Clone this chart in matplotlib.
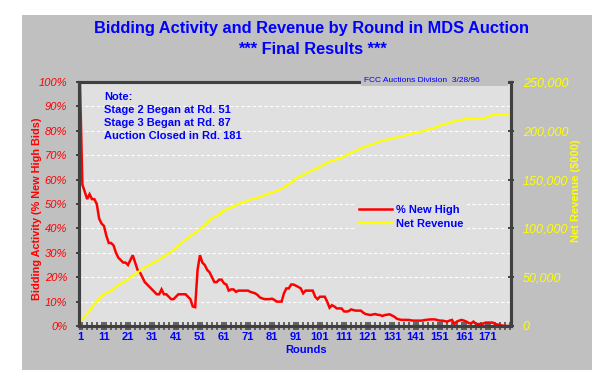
import matplotlib
matplotlib.use('Agg')
import matplotlib.pyplot as plt
import numpy as np
from matplotlib.patches import Rectangle
from matplotlib.lines import Line2D
from matplotlib.ticker import MultipleLocator, FuncFormatter

# % of new high bids per round (rounds 1..181)
pct_new_high = [
  100, 58, 55, 52, 54, 52, 52, 50, 44, 42,
  41, 37, 34, 34, 33, 30, 28, 27, 26, 26,
  25, 27, 29, 26, 23, 22, 20, 18, 17, 16,
  15, 14, 13, 13, 15, 13, 13, 12, 11, 11,
  12, 13, 13, 13, 13, 12, 11, 8, 7.7, 23,
  29, 26, 25, 23, 22, 20, 18, 18, 19, 19,
  17.5, 17, 14.5, 15, 15, 14, 14.5, 14.5, 14.5, 14.5,
  14.5, 14, 13.7, 13.4, 12.7, 11.7, 11.3, 11, 11, 11,
  11.2, 10.7, 10, 10, 10, 13.4, 15.4, 15.4, 17, 17,
  16.5, 16, 15.4, 13.4, 14.5, 14.5, 14.5, 14.5, 12, 11,
  12, 12, 12, 10, 7.5, 8.5, 8, 7.2, 7.2, 7.2,
  6, 5.9, 6.1, 6.8, 6.5, 6.3, 6.3, 6.3, 5.5, 4.9,
  4.7, 4.5, 4.7, 4.9, 4.6, 4.5, 4.1, 4.5, 4.6, 4.8,
  4.3, 3.8, 3, 2.7, 2.5, 2.5, 2.5, 2.5, 2.3, 2.2,
  2.2, 2.2, 2.2, 2.3, 2.5, 2.6, 2.7, 2.7, 2.7, 2.4,
  2.2, 2.2, 2.0, 1.8, 2.2, 2.5, 0.8, 1.8, 2.2, 2.5,
  2.2, 1.8, 1.2, 1.1, 1.8, 0.8, 0.8, 0.8, 1.0, 1.4,
  1.4, 1.4, 1.4, 0.8, 0.6, 0.4, 0.2, 0, 0, 0,
  0]
rounds = np.arange(1, len(pct_new_high) + 1)

# cumulative net revenue ($000), read at selected rounds
rev_rounds = [1, 3, 5, 7, 9, 11, 14, 17, 20, 22, 25, 28, 31, 34, 36, 39, 42, 45, 48, 50,
              53, 56, 59, 61, 64, 67, 70, 72, 75, 78, 81, 84, 86, 88, 90, 91, 94, 97, 100, 102,
              105, 108, 111, 113, 116, 119, 122, 125, 127, 130, 133, 136, 138, 141, 144, 147, 150, 152, 155, 158,
              161, 163, 166, 169, 171, 173, 177, 181]
net_revenue = [4400, 9600, 15700, 22500, 28000, 32500, 36000, 42000, 46000, 50000,
               55000, 60000, 64000, 68000, 71500, 76000, 82000, 88500, 94000, 97000,
               103500, 110500, 114000, 118500, 121500, 125000, 127500, 129500, 131500, 134200,
               136600, 139500, 142000, 145500, 148500, 151300, 154700, 158800, 161500, 164900,
               168400, 170800, 173500, 176200, 179600, 183000, 185400, 188200, 189900, 191600,
               193300, 195000, 196400, 198100, 199800, 201800, 204200, 206300, 208300, 210400,
               211700, 212100, 212100, 212100, 214500, 216200, 216200, 216200]

xtick_rounds = list(range(1, 172, 10))
note_lines = ['Note:', 'Stage 2 Began at Rd. 51', 'Stage 3 Began at Rd. 87', 'Auction Closed in Rd. 181']

W, H = 604, 382
BLUE = '#0000FF'
RED = '#FF0000'
YEL = '#FFFF00'
DARK = '#404040'
OUTER = '#C0C0C0'
INNER = '#E0E0E0'
SANS = ['Liberation Sans', 'DejaVu Sans']

fig = plt.figure(figsize=(W/100, H/100), dpi=100, facecolor='white')

def fx(px): return px / W
def fy(py): return 1 - py / H

# gray frame behind the chart
fig.patches.append(Rectangle((fx(22), fy(370)), fx(592) - fx(22), fy(15) - fy(370),
                             transform=fig.transFigure, facecolor=OUTER, edgecolor='none', zorder=-5))

ax = fig.add_axes([fx(79), fy(326), fx(511) - fx(79), fy(82) - fy(326)])
ax.set_facecolor(INNER)
ax2 = ax.twinx()

ax.plot(rounds, pct_new_high, color=RED, lw=1.8, solid_joinstyle='miter')
ax2.plot(rev_rounds, net_revenue, color=YEL, lw=1.6)

ax.set_xlim(0.6, 180.6)
ax.set_ylim(0, 100)
ax2.set_ylim(0, 250000)

ax.yaxis.set_major_locator(MultipleLocator(10))
ax.yaxis.set_major_formatter(FuncFormatter(lambda v, p: '%d%%' % v))
ax.grid(axis='y', color='white', lw=0.8, linestyle=(0, (3, 2.2)))
ax.set_axisbelow(True)

ax.set_xticks(xtick_rounds)
ax.xaxis.set_minor_locator(MultipleLocator(2))
ax.tick_params(axis='x', which='both', direction='inout', length=6, width=1.1, color=DARK,
               labelsize=8, labelcolor=BLUE, pad=1.5)
ax.tick_params(axis='y', direction='out', length=2.5, width=1.4, color=DARK,
               labelsize=8, labelcolor=RED, pad=6)
for lab in ax.get_xticklabels():
  lab.set_fontweight('bold')
  lab.set_family(SANS)
for lab in ax.get_yticklabels():
  lab.set_fontstyle('italic')
  lab.set_family(SANS)

ax2.yaxis.set_major_locator(MultipleLocator(50000))
ax2.yaxis.set_major_formatter(FuncFormatter(lambda v, p: '{:,.0f}'.format(v)))
ax2.tick_params(axis='y', direction='inout', length=5, width=1.4, color=DARK,
                labelsize=9, labelcolor=YEL, pad=6)
for lab in ax2.get_yticklabels():
  lab.set_fontstyle('italic')
  lab.set_family(SANS)

for a in (ax, ax2):
  for s in a.spines.values():
    s.set_color(DARK)
    s.set_linewidth(2.2)

# titles and labels
fig.text(fx(312), fy(29), 'Bidding Activity and Revenue by Round in MDS Auction', color=BLUE,
         fontsize=11.8, fontweight='bold', family=SANS, ha='center', va='center')
fig.text(fx(312), fy(50), '*** Final Results ***', color=BLUE,
         fontsize=11.8, fontweight='bold', family=SANS, ha='center', va='center')
fig.text(fx(306), fy(350), 'Rounds', color=BLUE, fontsize=8, fontweight='bold',
         family=SANS, ha='center', va='center')
fig.text(fx(37), fy(209), 'Bidding Activity (% New High Bids)', color=RED, fontsize=7.8,
         fontweight='bold', family=SANS, rotation=90, ha='center', va='center')
fig.text(fx(576), fy(191), 'Net Revenue ($000)', color=YEL, fontsize=8,
         fontweight='bold', family=SANS, rotation=90, ha='center', va='center')

# note
fig.text(fx(104), fy(92), '\n'.join(note_lines), color=BLUE, fontsize=8, fontweight='bold',
         family=SANS, ha='left', va='top', linespacing=1.38)

# stamp box over the top spine
fig.patches.append(Rectangle((fx(361), fy(86)), fx(508) - fx(361), fy(75) - fy(86),
                             transform=fig.transFigure, facecolor=OUTER, edgecolor='none', zorder=2))
fig.text(fx(364), fy(80.5), 'FCC Auctions Division  3/28/96', color=BLUE, fontsize=6,
         family=['Liberation Sans Narrow', 'Liberation Sans'], ha='left', va='center', zorder=3)

# legend
handles = [Line2D([], [], color=RED, lw=1.8), Line2D([], [], color=YEL, lw=1.6)]
leg = ax2.legend(handles, ['% New High', 'Net Revenue'], loc='upper left',
                 bbox_to_anchor=(fx(350), fy(196)), bbox_transform=fig.transFigure,
                 frameon=True, facecolor=INNER, edgecolor='none', fancybox=False, framealpha=1,
                 handlelength=3.0, handletextpad=0.35, labelspacing=0.35, borderpad=0.3,
                 prop={'family': SANS, 'weight': 'bold', 'size': 8})
for t in leg.get_texts():
  t.set_color(BLUE)

fig.savefig('out.png', dpi=100)
